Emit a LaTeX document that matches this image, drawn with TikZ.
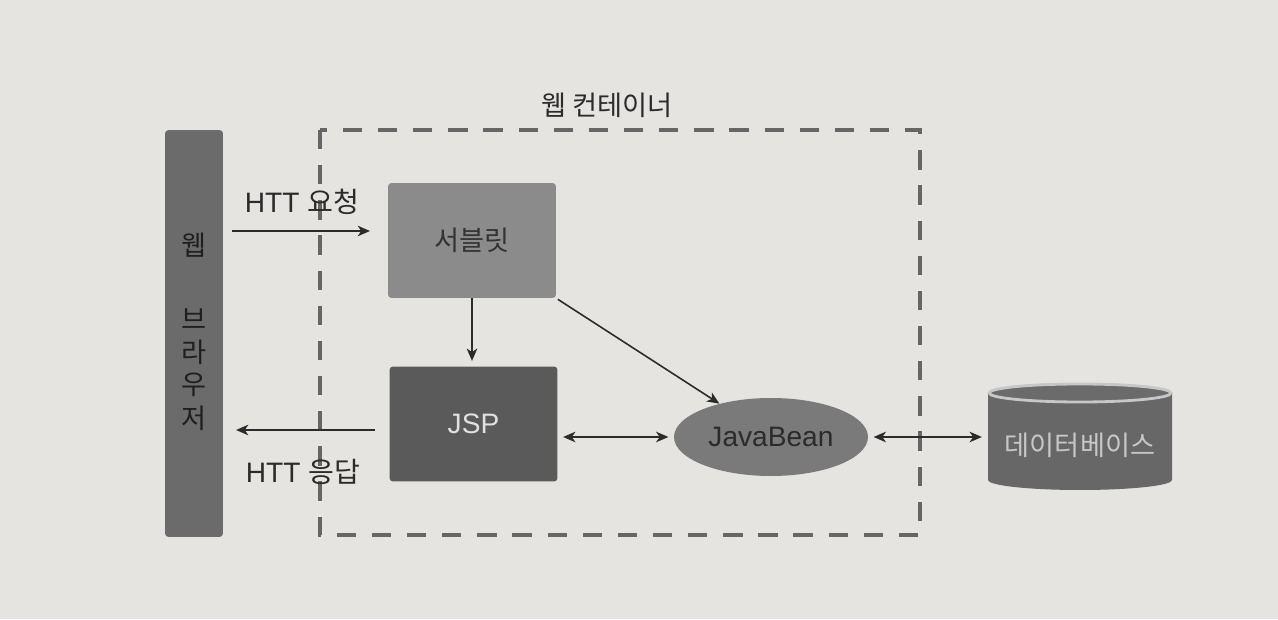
\documentclass[tikz,border=0pt]{standalone}
\usepackage{fontspec}
\setmainfont{Liberation Sans}
\newfontfamily\kr{Noto Sans CJK KR}
\usepackage{tikz}
\usetikzlibrary{shapes}
\usetikzlibrary{arrows.meta}
\definecolor{paper}{HTML}{E5E4E0}
\definecolor{bargray}{HTML}{6B6B6B}
\definecolor{srvgray}{HTML}{8B8B8B}
\definecolor{jspgray}{HTML}{5A5A5A}
\definecolor{beangray}{HTML}{7A7A7A}
\definecolor{dbgray}{HTML}{676767}
\definecolor{inkgray}{HTML}{2B2B2B}
\tikzset{
	box node/.style={rectangle,rounded corners=2pt,minimum width=3.36cm,minimum height=2.3cm,font=\fontsize{16}{19}\selectfont},
	bar node/.style={rectangle,rounded corners=2pt,fill=bargray,minimum width=1.16cm,minimum height=8.14cm},
	bean node/.style={ellipse,fill=beangray,minimum width=3.88cm,minimum height=1.56cm,inner sep=0pt,text=inkgray,font=\fontsize{16}{19}\selectfont},
	db node/.style={rectangle,minimum width=3.7cm,minimum height=1.8cm,inner sep=0pt,text=black!22,font=\kr\fontsize{15.5}{19}\selectfont},
	label node/.style={text=inkgray,font=\fontsize{16}{19}\selectfont},
	letter/.style={text=black!88,font=\kr\fontsize{15.5}{19}\selectfont},
	conn/.style={draw=inkgray,line width=0.9pt}
}

\begin{document}
\begin{tikzpicture}[x=0.02cm,y=0.02cm,->,>={Stealth[length=7pt,width=6pt,inset=2pt]}]
	% paper
	\fill[paper] (0,0) rectangle (1278,619);
	\useasboundingbox (0,0) rectangle (1278,619);
	% web container
	\draw[-,draw=black!60,line width=1.8pt,dash pattern=on 11pt off 9pt] (320,489) rectangle (920,84);
	\node [label node,font=\kr\fontsize{15.5}{19}\selectfont] (wc) at (607,514) {웹 컨테이너};
	% browser
	\node [bar node] (browser) at (194,285.5) {};
	\node [letter] (b1) at (194,374) {웹};
	\node [letter] (b2) at (194,300) {브};
	\node [letter] (b3) at (194,267) {라};
	\node [letter] (b4) at (194,234) {우};
	\node [letter] (b5) at (194,201) {저};
	% servlet, jsp, bean
	\node [box node,fill=srvgray,text=black!80,font=\kr\fontsize{15.5}{19}\selectfont] (servlet) at (472,378.5) {서블릿};
	\node [box node,fill=jspgray,text=black!12] (jsp) at (473.5,195) {JSP};
	\node [bean node] (bean) at (771,182) {JavaBean};
	% database
	\fill[dbgray] (988,226) -- (988,139) arc[start angle=180,end angle=360,x radius=92,y radius=10] -- (1172,226) arc[start angle=0,end angle=180,x radius=92,y radius=10] -- cycle;
	\draw[-,draw=black!22,fill=black!58,line width=1.6pt] (1080,226) ellipse[x radius=91,y radius=9];
	\node [db node] (db) at (1080,174) {데이터베이스};
	% http
	\coordinate (req1) at (232,388);
	\coordinate (req2) at (370,388);
	\coordinate (res1) at (375,189);
	\coordinate (res2) at (236,189);
	\draw[conn] (req1) -- (req2);
	\draw[conn] (res1) -- (res2);
	\node [label node] (reqlabel) at (302,417) {HTT {\kr 요청}};
	\node [label node] (reslabel) at (303,147) {HTT {\kr 응답}};
	% arrows between parts
	\draw[conn,shorten >=3pt] (servlet.south) -- (servlet.south |- jsp.north);
	\draw[conn,shorten <=1pt] (servlet.south east) -- (bean);
	\draw[conn,<->,shorten <=3pt,shorten >=3pt] (jsp.east |- bean.west) -- (bean.west);
	\draw[conn,<->,shorten <=3pt,shorten >=3pt] (bean.east) -- (bean.east -| db.west);
\end{tikzpicture}
\end{document}
